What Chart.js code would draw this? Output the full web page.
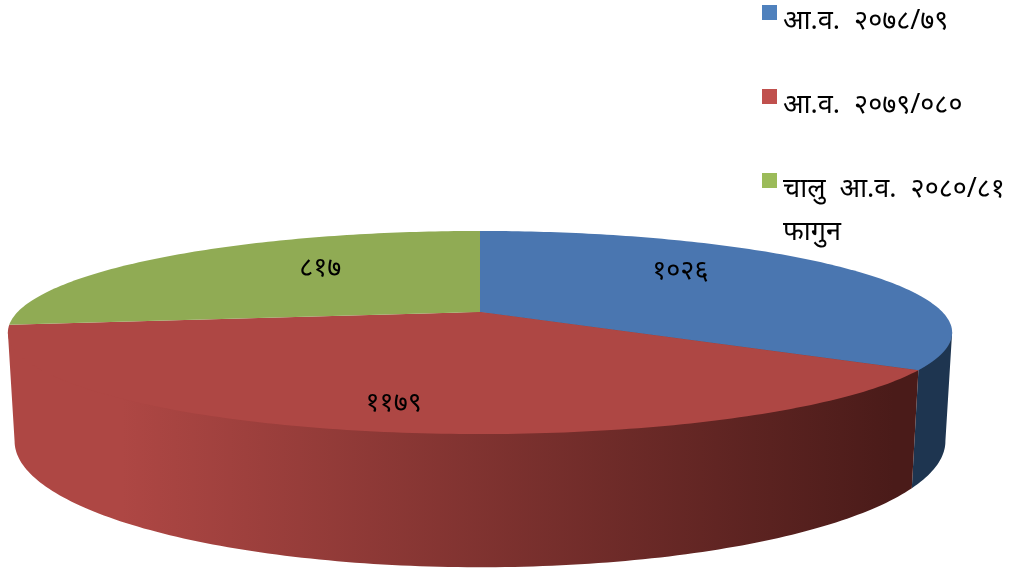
<!DOCTYPE html>
<html>
<head>
<meta charset="utf-8">
<script src="https://cdn.jsdelivr.net/npm/chart.js@4"></script>
<style>
  html, body { margin: 0; padding: 0; background: #fff; }
  #wrap { position: relative; width: 1009px; height: 572px; overflow: hidden; font-family: "Noto Sans", "DejaVu Sans", sans-serif; }
  canvas { position: absolute; left: 0; top: 0; }
  .key { position: absolute; left: 762px; width: 15px; height: 15px; }
  .name { position: absolute; left: 783px; width: 226px; font-size: 27px; line-height: 43px; color: #000; white-space: pre-wrap; }
</style>
</head>
<body>
<div id="wrap"><canvas id="pie" width="1009" height="572"></canvas></div>
<script>
const categories = ['आ.व.  २०७८/७९', 'आ.व.  २०७९/०८०', 'चालु  आ.व.  २०८०/८१ फागुन'];
const values = [1026, 1179, 817];
const valueLabels = ['१०२६', '११७९', '८१७'];
const keyColors = ['#4f81bd', '#c0504d', '#9bbb59'];
const topColors = ['#4a76b0', '#ae4744', '#90ab54'];

// perspective of the disc: top face and bottom rim
const topFace = { cx: 480, cy: 312, a: 462.4, b: 97.4, k: 0.202 };
const bottomRim = { cx: 480, cy: 416, a: 456, b: 121, k: 0.2 };
// the wall is only visible between the two side silhouettes
const wallFrom = 0.2;
const wallTo = 2.94;

function project(face, angle, r) {
    const u = Math.cos(angle) * r;
    const v = Math.sin(angle) * r;
    const w = 1 - face.k * v;
    return [face.cx + face.a * u / w, face.cy + face.b * v / w];
}

function traceEdge(ctx, face, from, to) {
    const steps = Math.max(2, Math.ceil(Math.abs(to - from) * 60));
    for (let i = 0; i <= steps; i++) {
        const p = project(face, from + (to - from) * i / steps, 1);
        ctx.lineTo(p[0], p[1]);
    }
}

function wallFill(ctx, index) {
    if (index === 0) return '#1e3550';
    const g = ctx.createLinearGradient(14, 0, 912, 0);
    g.addColorStop(0, '#ae4744');
    g.addColorStop(0.12, '#ae4744');
    g.addColorStop(0.98, '#4a1b19');
    g.addColorStop(1, '#4a1b19');
    return g;
}

const pie3d = {
    id: 'pie3d',
    beforeDatasetDraw(chart) {
        const ctx = chart.ctx;
        const arcs = chart.getDatasetMeta(0).data;
        const c = project(topFace, 0, 0);

        // walls run in under the top face, so the seam has no white in it
        arcs.forEach((arc, i) => {
            const from = Math.max(arc.startAngle, wallFrom);
            const to = Math.min(arc.endAngle, wallTo);
            if (to <= from) return;
            const a = project(topFace, from, 1);
            const b = project(topFace, to, 1);
            ctx.beginPath();
            ctx.moveTo(c[0], c[1]);
            ctx.lineTo(a[0], a[1]);
            traceEdge(ctx, bottomRim, from, to);
            ctx.lineTo(b[0], b[1]);
            ctx.closePath();
            ctx.fillStyle = wallFill(ctx, i);
            ctx.fill();
        });

        // top face
        arcs.forEach((arc, i) => {
            ctx.beginPath();
            ctx.moveTo(c[0], c[1]);
            traceEdge(ctx, topFace, arc.startAngle, arc.endAngle);
            ctx.closePath();
            ctx.fillStyle = topColors[i];
            ctx.fill();
        });

        // value labels
        const place = [[0.52, -17], [0.74, 9], [0.49, -14]];
        ctx.fillStyle = '#000';
        ctx.font = '27px "Noto Sans", "DejaVu Sans", sans-serif';
        ctx.textAlign = 'center';
        ctx.textBaseline = 'middle';
        arcs.forEach((arc, i) => {
            const mid = (arc.startAngle + arc.endAngle) / 2;
            const p = project(topFace, mid, place[i][0]);
            ctx.fillText(valueLabels[i], p[0], p[1] + place[i][1]);
        });
        return false;
    }
};

new Chart(document.getElementById('pie'), {
    type: 'pie',
    data: {
        labels: categories,
        datasets: [{ data: values, backgroundColor: topColors, borderWidth: 0 }]
    },
    options: {
        responsive: false,
        animation: false,
        plugins: { legend: { display: false }, tooltip: { enabled: false } }
    },
    plugins: [pie3d]
});

// legend
const wrap = document.getElementById('wrap');
const keyTops = [5, 89, 173];
const nameTops = [-3, 81, 165];
categories.forEach((name, i) => {
    const key = document.createElement('div');
    key.className = 'key';
    key.style.top = keyTops[i] + 'px';
    key.style.background = keyColors[i];
    wrap.appendChild(key);
    const label = document.createElement('div');
    label.className = 'name';
    label.style.top = nameTops[i] + 'px';
    label.textContent = name;
    wrap.appendChild(label);
});
</script>
</body>
</html>
